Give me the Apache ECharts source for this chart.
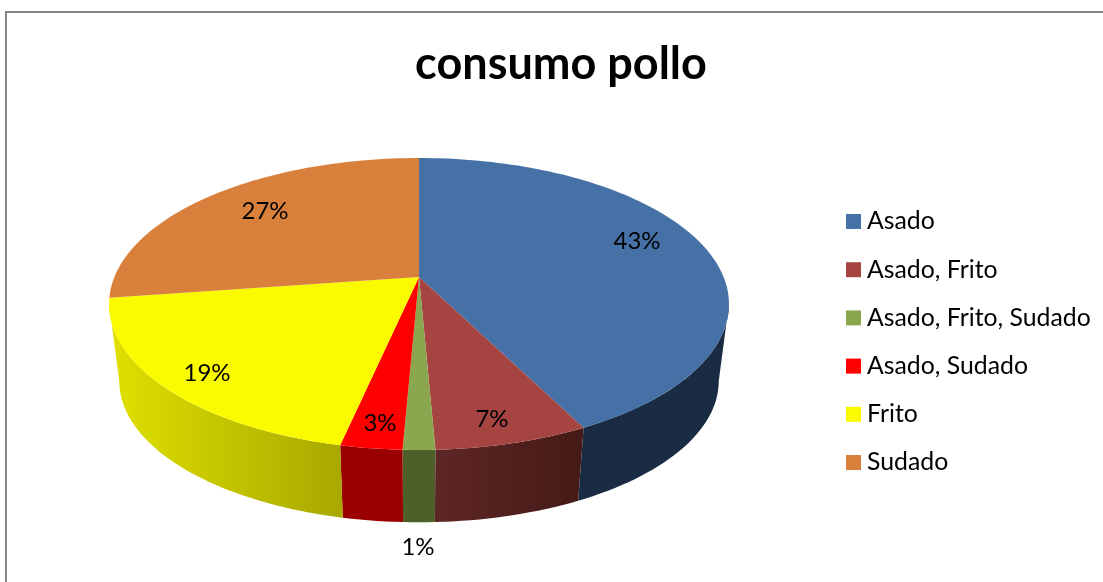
<!DOCTYPE html>
<html>
<head>
<meta charset="utf-8">
<style>html,body{margin:0;padding:0;background:#fff}#c{width:1103px;height:582px}</style>
<script src="https://cdn.jsdelivr.net/npm/echarts@6/dist/echarts.min.js"></script>
</head>
<body>
<div id="c"></div>
<script>
// ---- data ----
const categories = ['Asado', 'Asado, Frito', 'Asado, Frito, Sudado', 'Asado, Sudado', 'Frito', 'Sudado'];
const shares = [42.55, 6.75, 1.4, 2.7, 19.3, 27.3];

// ---- styles and layout ----
const topColors = ['#4571a7', '#a64442', '#8aa64e', '#ff0000', '#fbfb00', '#d9803c'];
const wallColors = [['#1a2c44', '#1a2c44'], ['#5e2625', '#451a17'], ['#4e6029', '#4e6029'],
                    ['#9b0000', '#9b0000'], ['#e0e000', '#a8a800'], ['#8a5020', '#8a5020']];
const labelCentres = [[637, 241], [492, 419], [418, 547], [380, 423], [207, 373], [265, 211]];
const FONT = 'Lato, Carlito, "Open Sans", sans-serif';
const VIEW = { cx: 419, topY: 277, baseY: 355, a: 304.6, b: 141, k: 0.185, baseScale: 0.967 };
const WALL_FROM = 100.7, WALL_TO = 259.3; // silhouette angles of the disc

function project(deg, r, y0, s) {
  const t = deg * Math.PI / 180, X = r * Math.sin(t), Y = r * Math.cos(t), w = 1 + VIEW.k * Y;
  return [VIEW.cx + s * VIEW.a * X / w, y0 - s * VIEW.b * Y / w];
}
function arc(d0, d1, y0, s) {
  const n = Math.max(2, Math.ceil(Math.abs(d1 - d0) / 1.5)), pts = [];
  for (let i = 0; i <= n; i++) pts.push(project(d0 + (d1 - d0) * i / n, 1, y0, s));
  return pts;
}

const total = shares.reduce((a, b) => a + b, 0);
let running = 0;
const series = categories.map((name, i) => {
  const start = running; running += shares[i];
  return {
    type: 'custom', name, coordinateSystem: 'none', silent: true,
    itemStyle: { color: topColors[i] },
    data: [[shares[i], start]],
    renderItem(params, api) {
      const d0 = api.value(1) / total * 360, d1 = (api.value(1) + api.value(0)) / total * 360;
      const children = [];
      const w0 = Math.max(d0, WALL_FROM), w1 = Math.min(d1, WALL_TO);
      if (w1 > w0) {
        const pts = arc(w0, w1, VIEW.topY, 1).concat(arc(w1, w0, VIEW.baseY, VIEW.baseScale));
        children.push({
          type: 'polygon', z2: 1, shape: { points: pts },
          style: { fill: new echarts.graphic.LinearGradient(0, 0, 1, 0, [
            { offset: 0, color: wallColors[i][0] }, { offset: 1, color: wallColors[i][1] }]) }
        });
      }
      const face = [[VIEW.cx, VIEW.topY]].concat(arc(d0, d1, VIEW.topY, 1));
      children.push({ type: 'polygon', z2: 2, shape: { points: face }, style: { fill: topColors[i] } });
      children.push({
        type: 'text', z2: 5, x: labelCentres[i][0], y: labelCentres[i][1],
        style: { text: Math.round(api.value(0) / total * 100) + '%', fill: '#000',
                 font: '24px ' + FONT, align: 'center', verticalAlign: 'middle' }
      });
      return { type: 'group', children };
    }
  };
});

const chart = echarts.init(document.getElementById('c'), null, { renderer: 'canvas' });
chart.setOption({
  animation: false,
  backgroundColor: '#fff',
  title: { text: 'consumo pollo', left: 556, top: 33, textAlign: 'center',
           textStyle: { fontFamily: FONT, fontWeight: 'bold', fontSize: 45, color: '#000', lineHeight: 52 } },
  legend: { orient: 'vertical', left: 846, top: 209, padding: 0, icon: 'rect', itemWidth: 15, itemHeight: 15,
            itemGap: 23.2, selectedMode: false, data: categories,
            textStyle: { fontFamily: FONT, fontSize: 24.8, color: '#000', lineHeight: 25, padding: [0, 0, 0, 1] } },
  graphic: [
    { type: 'line', shape: { x1: 6, y1: 12, x2: 1103, y2: 12 }, style: { stroke: '#868686', lineWidth: 2 } },
    { type: 'line', shape: { x1: 6, y1: 11, x2: 6, y2: 582 }, style: { stroke: '#868686', lineWidth: 2 } }
  ],
  series
});
</script>
</body>
</html>
